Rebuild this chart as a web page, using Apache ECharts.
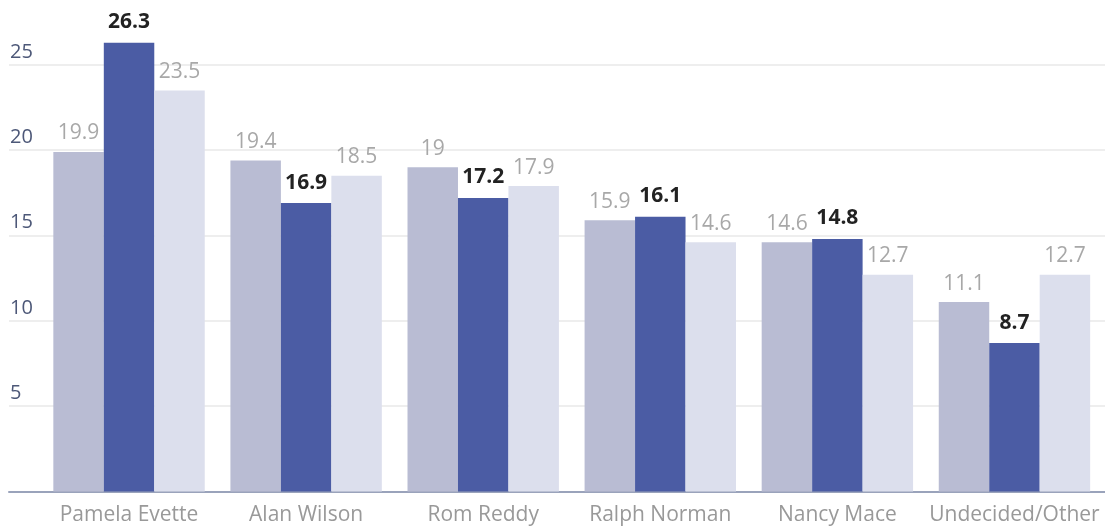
<!DOCTYPE html>
<html>
<head>
<meta charset="utf-8">
<script src="https://cdn.jsdelivr.net/npm/echarts@6/dist/echarts.min.js"></script>
<style>
html,body{margin:0;padding:0;background:#fff;}
#chart{width:1105px;height:527px;}
</style>
</head>
<body>
<div id="chart"></div>
<script>
const categories = ['Pamela Evette', 'Alan Wilson', 'Rom Reddy', 'Ralph Norman', 'Nancy Mace', 'Undecided/Other'];
const seriesA = [19.9, 19.4, 19, 15.9, 14.6, 11.1];
const seriesB = [26.3, 16.9, 17.2, 16.1, 14.8, 8.7];
const seriesC = [23.5, 18.5, 17.9, 14.6, 12.7, 12.7];
const yTicks = [5, 10, 15, 20, 25];

const FONT = '"Open Sans", "Noto Sans", sans-serif';
const chart = echarts.init(document.getElementById('chart'));
const YMAX = 28.8;

const grayLabel = {show: true, position: 'top', distance: 8, color: '#a8a8a8', fontSize: 21, fontFamily: FONT};
const boldLabel = {show: true, position: 'top', distance: 10, color: '#222', fontSize: 21, fontWeight: 'bold', fontFamily: FONT};

chart.setOption({
  animation: false,
  grid: [
    {left: 9, right: 0, top: 0, bottom: 35.5},
    {left: 40.5, right: 2, top: 0, bottom: 35.5}
  ],
  xAxis: [
    {gridIndex: 0, type: 'value', min: 0, max: 1, axisLine: {show: true, onZero: false, lineStyle: {color: '#9aa3bb', width: 2}}, axisTick: {show: false}, axisLabel: {show: false}, splitLine: {show: false}},
    {gridIndex: 1, type: 'category', data: categories, axisLine: {show: false}, axisTick: {show: false},
     axisLabel: {interval: 0, color: '#999', fontSize: 21, fontFamily: FONT, margin: 13}}
  ],
  yAxis: [
    {gridIndex: 0, type: 'value', min: 0, max: YMAX, interval: 5,
     axisLine: {show: false}, axisTick: {show: false},
     splitLine: {show: true, showMaxLine: false, showMinLine: false, lineStyle: {color: '#eeeeee', width: 2}},
     axisLabel: {inside: true, showMaxLabel: false, margin: 1, verticalAlign: 'bottom', align: 'left', padding: [0, 0, 3, 0], color: '#4d5878', fontSize: 20, fontFamily: FONT,
       formatter: v => yTicks.includes(v) ? String(v) : ''}},
    {gridIndex: 1, type: 'value', min: 0, max: YMAX, interval: 5, show: false}
  ],
  series: [
    {type: 'bar', xAxisIndex: 1, yAxisIndex: 1, data: seriesA, itemStyle: {color: '#b9bcd3'}, label: grayLabel, barGap: '0%', barCategoryGap: '14.5%'},
    {type: 'bar', xAxisIndex: 1, yAxisIndex: 1, data: seriesB, itemStyle: {color: '#4b5ca4'}, label: boldLabel, barGap: '0%', barCategoryGap: '14.5%'},
    {type: 'bar', xAxisIndex: 1, yAxisIndex: 1, data: seriesC, itemStyle: {color: '#dcdfed'}, label: grayLabel, barGap: '0%', barCategoryGap: '14.5%'}
  ]
});
</script>
</body>
</html>
